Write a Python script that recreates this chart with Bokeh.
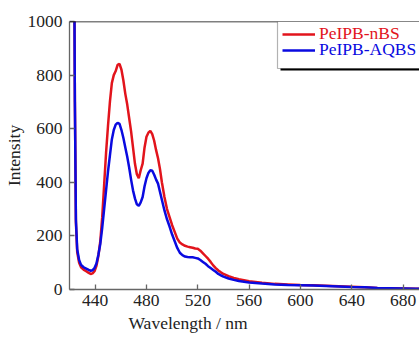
from bokeh.plotting import figure
from bokeh.models import Legend, LegendItem, BoxAnnotation, Span, Range1d, FixedTicker, Title
from bokeh.embed import file_html
from bokeh.resources import INLINE

wavelength = [423.6, 424.2, 425.0, 426.0, 427.5, 429.0, 431.0, 433.0, 435.0, 436.5, 438.0, 439.5,
              441.0, 442.5, 444.0, 445.5, 447.0, 448.5, 450.0, 451.5, 453.0, 454.5, 456.0, 457.5,
              459.0, 460.5, 462.0, 463.5, 465.0, 466.5, 468.0, 469.5, 471.0, 472.5, 474.0, 475.5,
              477.0, 478.5, 480.0, 481.5, 483.0, 484.5, 486.0, 487.5, 489.0, 490.5, 492.0, 494.0,
              496.0, 498.0, 500.0, 502.0, 504.0, 506.0, 508.0, 510.0, 512.0, 514.0, 516.0, 518.0,
              520.0, 522.0, 524.0, 526.0, 528.0, 530.0, 532.0, 534.0, 536.0, 538.0, 540.0, 544.0,
              548.0, 552.0, 556.0, 560.0, 570.0, 580.0, 590.0, 600.0, 610.0, 620.0, 630.0, 640.0,
              650.0, 660.0, 670.0, 680.0, 690.0, 694.0]

nbs = [1300, 700, 250, 140, 100, 83, 74, 68, 62, 58, 60, 68,
       88, 125, 180, 270, 390, 510, 610, 700, 770, 800, 815, 838,
       842, 820, 780, 730, 690, 640, 590, 530, 470, 430, 415, 445,
       470, 530, 570, 585, 592, 580, 555, 520, 490, 450, 400, 345,
       300, 270, 240, 215, 190, 175, 168, 163, 160, 158, 156, 153,
       152, 145, 135, 125, 115, 103, 90, 80, 71, 64, 58, 50,
       43, 38, 35, 31, 25, 21, 19, 17, 16, 14, 12, 10,
       8, 6, 5, 4, 3, 3]

aqbs = [1300, 700, 260, 150, 110, 92, 83, 78, 73, 70, 72, 80,
        97, 130, 170, 230, 300, 370, 440, 500, 560, 595, 615, 622,
        618, 595, 565, 530, 495, 455, 410, 370, 340, 318, 312, 325,
        345, 385, 415, 435, 445, 443, 428, 410, 395, 365, 335, 295,
        262, 235, 205, 180, 155, 137, 128, 123, 121, 120, 120, 118,
        116, 110, 103, 96, 87, 80, 73, 66, 58, 53, 48, 41,
        36, 32, 29, 26, 22, 19, 17, 16, 15, 13, 11, 9,
        8, 6, 5, 4, 3, 3]

x_ticks = [440, 480, 520, 560, 600, 640, 680]
y_ticks = [0, 200, 400, 600, 800, 1000]
x_start, x_end = 420, 692.8
y_start, y_end = 0, 1000
x_title = "Wavelength / nm"
y_title = "Intensity"
series_names = ["PeIPB-nBS", "PeIPB-AQBS"]

RED = "#e2141c"
BLUE = "#0a0ae0"
FONT = "Liberation Serif"
FS = "17.5px"
TXT = "#222222"

p = figure(width=419, height=337, output_backend="svg", toolbar_location=None,
           x_range=Range1d(x_start, x_end), y_range=Range1d(y_start, y_end),
           min_border_left=69, min_border_right=0, min_border_top=21, min_border_bottom=48)
p.outline_line_color = None
p.grid.visible = False
p.background_fill_color = "white"

for ax in (p.xaxis[0], p.yaxis[0]):
    ax.axis_line_color = "#666666"
    ax.axis_line_width = 1.3
    ax.major_tick_line_color = "#666666"
    ax.major_tick_line_width = 1.3
    ax.major_tick_in = 5
    ax.major_tick_out = 0
    ax.minor_tick_line_color = None
    ax.major_label_text_font = FONT
    ax.major_label_text_font_size = FS
    ax.major_label_text_color = TXT
    ax.axis_label_text_font = FONT
    ax.axis_label_text_font_size = FS
    ax.axis_label_text_font_style = "normal"
    ax.axis_label_text_color = TXT

p.xaxis.ticker = FixedTicker(ticks=x_ticks)
p.yaxis.ticker = FixedTicker(ticks=y_ticks)
p.yaxis.axis_label = y_title
p.xaxis.major_label_standoff = 5
p.yaxis.major_label_standoff = 7
p.yaxis.axis_label_standoff = 1

# x-axis title, placed off-centre as in the original figure
p.add_layout(Title(text=x_title, align="left", offset=59, standoff=4,
                   text_font=FONT, text_font_size=FS, text_font_style="normal",
                   text_color=TXT), "below")

top_line = Span(location=y_end, dimension="width", line_color="black", line_width=1.3)
p.add_layout(top_line)

r1 = p.line(wavelength, nbs, line_color=RED, line_width=2.5)
r2 = p.line(wavelength, aqbs, line_color=BLUE, line_width=2.5)

# legend frame with drop shadow
shadow = BoxAnnotation(left=211, right=400, top=266, bottom=219,
                       left_units="screen", right_units="screen", top_units="screen", bottom_units="screen",
                       fill_color="black", fill_alpha=1.0, line_color=None)
frame = BoxAnnotation(left=208, right=400, top=268, bottom=221,
                      left_units="screen", right_units="screen", top_units="screen", bottom_units="screen",
                      fill_color="white", fill_alpha=1.0, line_color="black", line_width=1.2)
p.add_layout(shadow)
p.add_layout(frame)

def make_legend(label, rend, color, y):
    return Legend(items=[LegendItem(label=label, renderers=[rend])], location=(213, y),
                  border_line_color=None, background_fill_alpha=0, padding=0, margin=0, spacing=0,
                  glyph_width=33, glyph_height=16, label_height=16, label_standoff=4,
                  label_text_font=FONT, label_text_font_size=FS, label_text_color=color)

p.add_layout(make_legend(series_names[0], r1, RED, 245), "center")
p.add_layout(make_legend(series_names[1], r2, BLUE, 229), "center")

open("out.html", "w").write(file_html(p, INLINE))
